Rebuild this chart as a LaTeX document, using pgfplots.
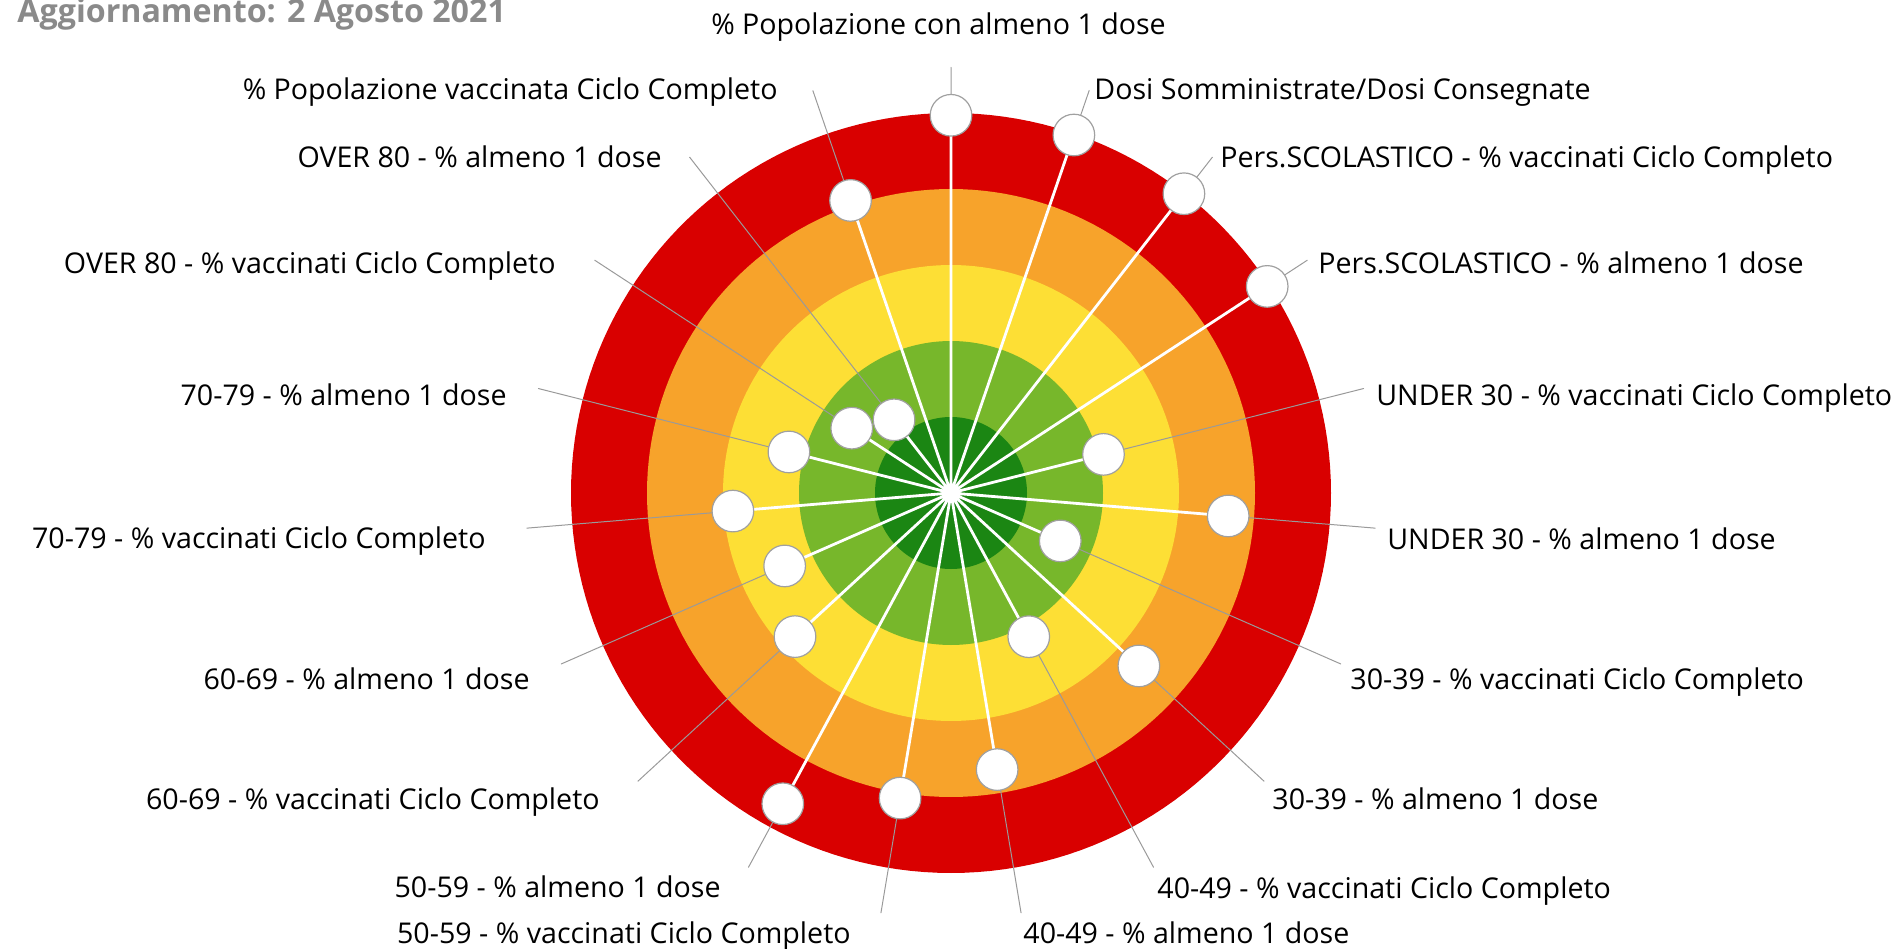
\documentclass[border=0pt]{standalone}
\usepackage{pgfplots}
\pgfplotsset{compat=1.18}
\usepackage{pgfplotstable}
\usepgfplotslibrary{polar}
\usepackage{fontspec}
\setmainfont{Open Sans}
\definecolor{cRed}{HTML}{D90000}
\definecolor{cOrange}{HTML}{F7A32B}
\definecolor{cYellow}{HTML}{FDDF35}
\definecolor{cGreen}{HTML}{77B72B}
\definecolor{cDark}{HTML}{1B8613}
\definecolor{mgray}{HTML}{A0A0A0}
\definecolor{lgray}{HTML}{9A9A9A}
\definecolor{tgray}{HTML}{8A8A8A}
\newcommand\lbl{\fontsize{14.3bp}{17bp}\selectfont}
\newcommand\ttl{\fontsize{16.1bp}{19bp}\selectfont\bfseries}

% star path: centre -> point -> centre -> next point ...
% a = angle (deg, 19 spokes clockwise from top), r = value on a 0-5 ring scale
\pgfplotstableread{
a r
90 0
90 4.97
71.053 0
71.053 4.98
52.105 0
52.105 4.99
33.158 0
33.158 4.97
14.211 0
14.211 2.07
-4.737 0
-4.737 3.66
-23.684 0
-23.684 1.57
-42.632 0
-42.632 3.36
-61.579 0
-61.579 2.15
-80.526 0
-80.526 3.69
-99.474 0
-99.474 4.07
-118.421 0
-118.421 4.65
-137.368 0
-137.368 2.79
-156.316 0
-156.316 2.39
-175.263 0
-175.263 2.88
-194.211 0
-194.211 2.20
-213.158 0
-213.158 1.56
-232.105 0
-232.105 1.22
-251.053 0
-251.053 4.07
}\spokes

\begin{document}
\begin{tikzpicture}
\useasboundingbox (0,0) rectangle (947bp,474.5bp);
\begin{polaraxis}[
  at={(475.5bp,228bp)}, anchor=center,
  scale only axis, width=425.6bp, height=425.6bp,
  xmin=0, xmax=360, ymin=0, ymax=5.6,
  hide axis, clip=false]
\addplot[draw=none, fill=cRed, domain=0:360, samples=181] {5};
\addplot[draw=none, fill=cOrange, domain=0:360, samples=181] {4};
\addplot[draw=none, fill=cYellow, domain=0:360, samples=181] {3};
\addplot[draw=none, fill=cGreen, domain=0:360, samples=181] {2};
\addplot[draw=none, fill=cDark, domain=0:360, samples=181] {1};
% leader lines
\addplot[lgray, line width=0.5bp, line join=round] coordinates {
(90,0)(90,5.6)(71.053,0)(71.053,5.6)(52.105,0)(52.105,5.6)(33.158,0)(33.158,5.6)
(14.211,0)(14.211,5.6)(-4.737,0)(-4.737,5.6)(-23.684,0)(-23.684,5.6)(-42.632,0)(-42.632,5.6)
(-61.579,0)(-61.579,5.6)(-80.526,0)(-80.526,5.6)(-99.474,0)(-99.474,5.6)(-118.421,0)(-118.421,5.6)
(-137.368,0)(-137.368,5.6)(-156.316,0)(-156.316,5.6)(-175.263,0)(-175.263,5.6)(-194.211,0)(-194.211,5.6)
(-213.158,0)(-213.158,5.6)(-232.105,0)(-232.105,5.6)(-251.053,0)(-251.053,5.6)};
% spokes and markers
\addplot[white, line width=1.4bp, line join=round,
  mark=*, mark phase=2, mark repeat=2, mark size=10.4bp,
  mark options={fill=white, draw=mgray, line width=0.6bp}]
  table[x=a, y=r] {\spokes};
\end{polaraxis}
\node[anchor=base west, font=\ttl, text=tgray, inner sep=0] at (8.5bp,463bp) {Aggiornamento: 2 Agosto 2021};
\begin{scope}[every node/.style={font=\lbl, inner sep=0, text=black}]
\node[anchor=base] at (469.25bp,457bp) {\% Popolazione con almeno 1 dose};
\node[anchor=base west] at (547bp,424.5bp) {Dosi Somministrate/Dosi Consegnate};
\node[anchor=base west] at (610bp,390.5bp) {Pers.SCOLASTICO - \% vaccinati Ciclo Completo};
\node[anchor=base west] at (659bp,337.5bp) {Pers.SCOLASTICO - \% almeno 1 dose};
\node[anchor=base west] at (688bp,271.5bp) {UNDER 30 - \% vaccinati Ciclo Completo};
\node[anchor=base west] at (693.5bp,199.5bp) {UNDER 30 - \% almeno 1 dose};
\node[anchor=base west] at (675bp,129.5bp) {30-39 - \% vaccinati Ciclo Completo};
\node[anchor=base west] at (636bp,69.5bp) {30-39 - \% almeno 1 dose};
\node[anchor=base west] at (578.5bp,25.5bp) {40-49 - \% vaccinati Ciclo Completo};
\node[anchor=base west] at (511.5bp,3bp) {40-49 - \% almeno 1 dose};
\node[anchor=base east] at (425.5bp,3bp) {50-59 - \% vaccinati Ciclo Completo};
\node[anchor=base east] at (360.5bp,26bp) {50-59 - \% almeno 1 dose};
\node[anchor=base east] at (300bp,69.5bp) {60-69 - \% vaccinati Ciclo Completo};
\node[anchor=base east] at (265bp,129.5bp) {60-69 - \% almeno 1 dose};
\node[anchor=base east] at (243bp,200bp) {70-79 - \% vaccinati Ciclo Completo};
\node[anchor=base east] at (253.5bp,271.5bp) {70-79 - \% almeno 1 dose};
\node[anchor=base east] at (278bp,337.5bp) {OVER 80 - \% vaccinati Ciclo Completo};
\node[anchor=base east] at (331bp,390.5bp) {OVER 80 - \% almeno 1 dose};
\node[anchor=base east] at (389bp,424.5bp) {\% Popolazione vaccinata Ciclo Completo};
\end{scope}
\end{tikzpicture}
\end{document}
